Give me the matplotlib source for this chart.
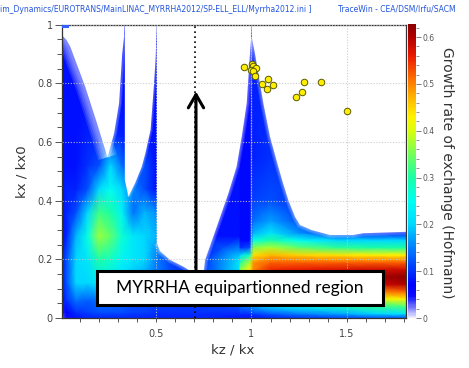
import numpy as np
import matplotlib
matplotlib.use("Agg")
import matplotlib.pyplot as plt
from matplotlib.colors import LinearSegmentedColormap, Normalize
from matplotlib.patches import Polygon, Rectangle
from matplotlib.ticker import MultipleLocator, FuncFormatter

# ---------------- data ----------------
# colour scale (growth rate -> colour)
cmap_vals = [0.0, 0.02, 0.045, 0.07, 0.10, 0.15, 0.20, 0.25, 0.30, 0.35,
             0.40, 0.43, 0.47, 0.51, 0.56, 0.60, 0.628]
cmap_cols = [(0.93, 0.93, 1.0), (0.5, 0.5, 1.0), (0.05, 0.05, 1.0), (0.0, 0.0, 1.0),
             (0.0, 0.2, 1.0), (0.0, 0.5, 1.0), (0.0, 0.85, 1.0), (0.0, 1.0, 0.95),
             (0.1, 1.0, 0.65), (0.45, 1.0, 0.35), (0.85, 1.0, 0.05), (1.0, 0.95, 0.0),
             (1.0, 0.72, 0.0), (1.0, 0.45, 0.0), (0.92, 0.1, 0.0), (0.7, 0.0, 0.0),
             (0.55, 0.0, 0.0)]
g_max = 0.628
cbar_ticks = [0, 0.1, 0.2, 0.3, 0.4, 0.5, 0.6]

# growth rate, left part of the chart (rows: kx/kx0, columns: kz/kx)
left_x = [0.0, 0.03, 0.08, 0.14, 0.2, 0.26, 0.32, 0.38, 0.44, 0.5, 0.6, 0.75, 0.94]
left_y = [0.0, 0.02, 0.06, 0.12, 0.2, 0.28, 0.36, 0.44, 0.52, 0.62, 0.75, 0.88, 1.0]
left_g = [
    [0.02, 0.05, 0.08, 0.09, 0.09, 0.09, 0.09, 0.09, 0.09, 0.09, 0.09, 0.09, 0.08],
    [0.04, 0.07, 0.10, 0.11, 0.12, 0.12, 0.12, 0.11, 0.11, 0.10, 0.10, 0.10, 0.10],
    [0.05, 0.10, 0.14, 0.13, 0.14, 0.14, 0.13, 0.12, 0.12, 0.12, 0.11, 0.11, 0.14],
    [0.08, 0.12, 0.20, 0.20, 0.22, 0.22, 0.20, 0.18, 0.16, 0.14, 0.12, 0.12, 0.22],
    [0.08, 0.12, 0.20, 0.22, 0.30, 0.28, 0.24, 0.22, 0.20, 0.15, 0.10, 0.10, 0.22],
    [0.08, 0.09, 0.18, 0.26, 0.37, 0.34, 0.27, 0.22, 0.20, 0.18, 0.10, 0.08, 0.08],
    [0.08, 0.09, 0.12, 0.20, 0.32, 0.30, 0.24, 0.14, 0.18, 0.16, 0.10, 0.08, 0.08],
    [0.08, 0.09, 0.09, 0.12, 0.20, 0.25, 0.20, 0.15, 0.12, 0.08, 0.08, 0.08, 0.08],
    [0.08, 0.08, 0.08, 0.10, 0.12, 0.20, 0.14, 0.10, 0.12, 0.08, 0.08, 0.08, 0.08],
    [0.08, 0.08, 0.08, 0.09, 0.09, 0.10, 0.09, 0.08, 0.08, 0.08, 0.08, 0.08, 0.08],
    [0.08, 0.08, 0.08, 0.08, 0.08, 0.08, 0.08, 0.08, 0.08, 0.08, 0.08, 0.08, 0.08],
    [0.08, 0.08, 0.08, 0.08, 0.08, 0.08, 0.08, 0.08, 0.08, 0.08, 0.08, 0.08, 0.08],
    [0.08, 0.08, 0.08, 0.08, 0.08, 0.08, 0.08, 0.08, 0.08, 0.08, 0.08, 0.08, 0.08],
]

# growth rate, right part (kz/kx around 1 and above)
right_x = [0.94, 0.99, 1.01, 1.1, 1.25, 1.45, 1.65, 1.82]
right_y = [0.0, 0.015, 0.04, 0.065, 0.09, 0.115, 0.14, 0.165, 0.19, 0.215,
           0.24, 0.265, 0.29, 0.33, 0.4, 0.55, 1.0]
right_g = [
    [0.08, 0.08, 0.08, 0.09, 0.10, 0.11, 0.12, 0.12],
    [0.10, 0.10, 0.11, 0.13, 0.15, 0.17, 0.20, 0.22],
    [0.14, 0.15, 0.17, 0.20, 0.24, 0.27, 0.31, 0.33],
    [0.20, 0.22, 0.25, 0.30, 0.35, 0.38, 0.41, 0.43],
    [0.26, 0.30, 0.34, 0.40, 0.45, 0.48, 0.50, 0.52],
    [0.32, 0.36, 0.42, 0.48, 0.53, 0.56, 0.58, 0.60],
    [0.36, 0.41, 0.47, 0.53, 0.56, 0.59, 0.61, 0.628],
    [0.36, 0.43, 0.50, 0.55, 0.56, 0.57, 0.58, 0.58],
    [0.30, 0.38, 0.49, 0.52, 0.52, 0.52, 0.52, 0.52],
    [0.20, 0.28, 0.44, 0.47, 0.45, 0.44, 0.43, 0.43],
    [0.10, 0.12, 0.36, 0.38, 0.34, 0.31, 0.30, 0.30],
    [0.075, 0.075, 0.26, 0.30, 0.25, 0.20, 0.20, 0.20],
    [0.075, 0.075, 0.18, 0.22, 0.16, 0.10, 0.09, 0.09],
    [0.075, 0.075, 0.14, 0.17, 0.12, 0.09, 0.09, 0.09],
    [0.075, 0.075, 0.11, 0.12, 0.10, 0.09, 0.09, 0.09],
    [0.075, 0.075, 0.09, 0.10, 0.10, 0.09, 0.09, 0.09],
    [0.075, 0.075, 0.09, 0.09, 0.09, 0.09, 0.09, 0.09],
]

# boundaries of the stop bands (kz/kx, kx/kx0)
edge_tl = [(-0.01, 0.975), (0.03, 0.948), (0.05, 0.925), (0.128, 0.789),
           (0.19, 0.664), (0.245, 0.548)]
edge_13 = [(0.245, 0.548), (0.28, 0.63), (0.306, 0.732), (0.322, 0.9), (0.333, 0.965)]
edge_12 = [(0.355, 0.414), (0.39, 0.46), (0.425, 0.516), (0.444, 0.562),
           (0.471, 0.641), (0.488, 0.789), (0.497, 0.88), (0.5, 0.93)]
edge_1L = [(0.504, 0.255), (0.52, 0.228), (0.573, 0.198), (0.643, 0.175),
           (0.68, 0.16), (0.75, 0.16), (0.757, 0.198), (0.818, 0.311),
           (0.879, 0.425), (0.922, 0.516), (0.949, 0.618), (0.975, 0.732),
           (0.992, 0.902), (0.998, 0.955)]
edge_1R = [(1.002, 0.955), (1.018, 0.902), (1.062, 0.732), (1.097, 0.618),
           (1.14, 0.516), (1.165, 0.46), (1.193, 0.402), (1.228, 0.345),
           (1.254, 0.317), (1.315, 0.3), (1.411, 0.283), (1.533, 0.283),
           (1.585, 0.289), (1.82, 0.294)]

# working points of the linac
wp_x = [0.961, 1.001, 1.006, 1.024, 0.996, 1.009, 1.018, 1.057, 1.085, 1.083,
        1.114, 1.275, 1.264, 1.233, 1.364, 1.502]
wp_y = [0.856, 0.867, 0.858, 0.852, 0.846, 0.841, 0.824, 0.798, 0.816, 0.782,
        0.793, 0.803, 0.772, 0.753, 0.803, 0.706]

eq_ratio = 0.704
box_label = "MYRRHA equipartionned region"
header_left = "im_Dynamics/EUROTRANS/MainLINAC_MYRRHA2012/SP-ELL_ELL/Myrrha2012.ini ]"
header_right = "TraceWin - CEA/DSM/Irfu/SACM"

# ---------------- drawing ----------------
W, H = 469, 368
fig = plt.figure(figsize=(W / 100, H / 100), dpi=100)
ax = fig.add_axes([61.7 / W, 50 / H, (406 - 61.7) / W, (318 - 24.7) / H])
cax = fig.add_axes([408 / W, 50 / H, 8 / W, (318 - 24) / H])

cmap = LinearSegmentedColormap.from_list(
    "hof", [(v / g_max, c) for v, c in zip(cmap_vals, cmap_cols)])
norm = Normalize(0, g_max)

LX, LY = np.meshgrid(left_x, left_y)
mesh = ax.pcolormesh(LX, LY, np.array(left_g), cmap=cmap, norm=norm,
                     shading="gouraud", zorder=1)
RX, RY = np.meshgrid(right_x, right_y)
ax.pcolormesh(RX, RY, np.array(right_g), cmap=cmap, norm=norm,
              shading="gouraud", zorder=1)

# feathered (soft) band edges
def feather(pts, widths, alpha):
    xs, ys = zip(*pts)
    for lw in widths:
        ax.plot(xs, ys, color="white", lw=lw, alpha=alpha, zorder=1.5,
                solid_capstyle="butt", solid_joinstyle="round")

feather(edge_tl, [14, 11.5, 9, 6.5, 4], 0.13)
feather(edge_13, [4, 2.5], 0.16)
feather(edge_12, [3, 1.5], 0.15)
feather(edge_1L, [4.5, 3, 1.5], 0.14)
feather(edge_1R, [4.5, 3, 1.5], 0.14)
ax.plot([1.0, 1.0], [0.232, 0.95], color="white", lw=1.0, alpha=0.3, zorder=1.6)

# stable (white) regions
W1 = edge_tl + edge_13[1:] + [(0.333, 1.01), (-0.01, 1.01)]
W2 = [(0.333, 1.01), (0.336, 0.965), (0.336, 0.47)] + edge_12 + [(0.5, 1.01)]
W3 = [(0.5, 1.01), (0.504, 0.93)] + edge_1L + [(1.0, 1.01)]
W4 = [(1.0, 1.01)] + edge_1R + [(1.82, 1.01)]
for poly in (W1, W2, W3, W4):
    ax.add_patch(Polygon(poly, closed=True, facecolor="white",
                         edgecolor="none", zorder=2))

ax.set_xlim(0.005, 1.81)
ax.set_ylim(0, 1)
ax.set_axisbelow(False)
ax.grid(True, which="major", color="#c8c8c8", linestyle=(0, (1, 1.5)),
        linewidth=0.8, alpha=0.9)

ax.axvline(eq_ratio, color="black", linestyle=(0, (1, 2)), lw=1.2, zorder=3)
ax.scatter(wp_x, wp_y, s=22, c="#ffee00", edgecolors="#5a5a00",
           linewidths=0.7, zorder=4)

ax.add_patch(Rectangle((0.1876, 0.0431), 1.692 - 0.1876, 0.159 - 0.0431,
                       facecolor="white", edgecolor="black", lw=2.2, zorder=5))
ax.text(0.94, 0.101, box_label, ha="center", va="center", fontsize=12.5,
        family="Lato", zorder=6)
ax.annotate("", xy=(0.709, 0.772), xytext=(0.709, 0.159),
            arrowprops=dict(arrowstyle="->,head_length=0.95,head_width=0.55",
                            lw=2.2, color="black", shrinkA=0, shrinkB=0),
            zorder=6)
ax.add_patch(Rectangle((0.008, 0.99), 0.035, 0.009, facecolor="#3060ff",
                       edgecolor="none", zorder=4, clip_on=False))

fmt = FuncFormatter(lambda v, p: "%g" % round(v, 3))
ax.xaxis.set_major_locator(MultipleLocator(0.5))
ax.xaxis.set_minor_locator(MultipleLocator(0.1))
ax.yaxis.set_major_locator(MultipleLocator(0.2))
ax.yaxis.set_minor_locator(MultipleLocator(0.05))
ax.xaxis.set_major_formatter(fmt)
ax.yaxis.set_major_formatter(fmt)
ax.tick_params(which="both", direction="out", colors="#555555",
               labelcolor="#444444", labelsize=7, width=0.7)
ax.tick_params(axis="x", which="both", length=3, pad=5)
ax.tick_params(axis="y", which="major", length=5, pad=1.5)
ax.tick_params(axis="y", which="minor", length=3.5)
for s in ax.spines.values():
    s.set_color("#333333")
    s.set_linewidth(0.9)

cb = fig.colorbar(mesh, cax=cax, ticks=cbar_ticks)
cb.outline.set_visible(False)
cax.yaxis.set_major_formatter(fmt)
cax.yaxis.set_minor_locator(MultipleLocator(0.02))
cax.tick_params(which="major", labelsize=5.5, colors="#666666",
                labelcolor="#555555", length=3.5, width=0.6, pad=1)
cax.tick_params(which="minor", length=2.2, width=0.5, colors="#666666")

fig.text(447 / W, 0.53, "Growth rate of exchange (Hofmann)", rotation=270,
         ha="center", va="center", fontsize=10, color="#333333")
fig.text(22 / W, 0.534, "kx / kx0", rotation=90, ha="center", va="center",
         fontsize=9.5, color="#333333")
fig.text(233 / W, 0.048, "kz / kx", ha="center", va="center",
         fontsize=9.5, color="#333333")
fig.text(0.0, 1 - 9.5 / H, header_left, ha="left", va="center", fontsize=5.5,
         color="#2255dd")
fig.text(338 / W, 1 - 9.5 / H, header_right, ha="left", va="center",
         fontsize=5.5, color="#2255dd")

fig.savefig("out.png", dpi=100)
